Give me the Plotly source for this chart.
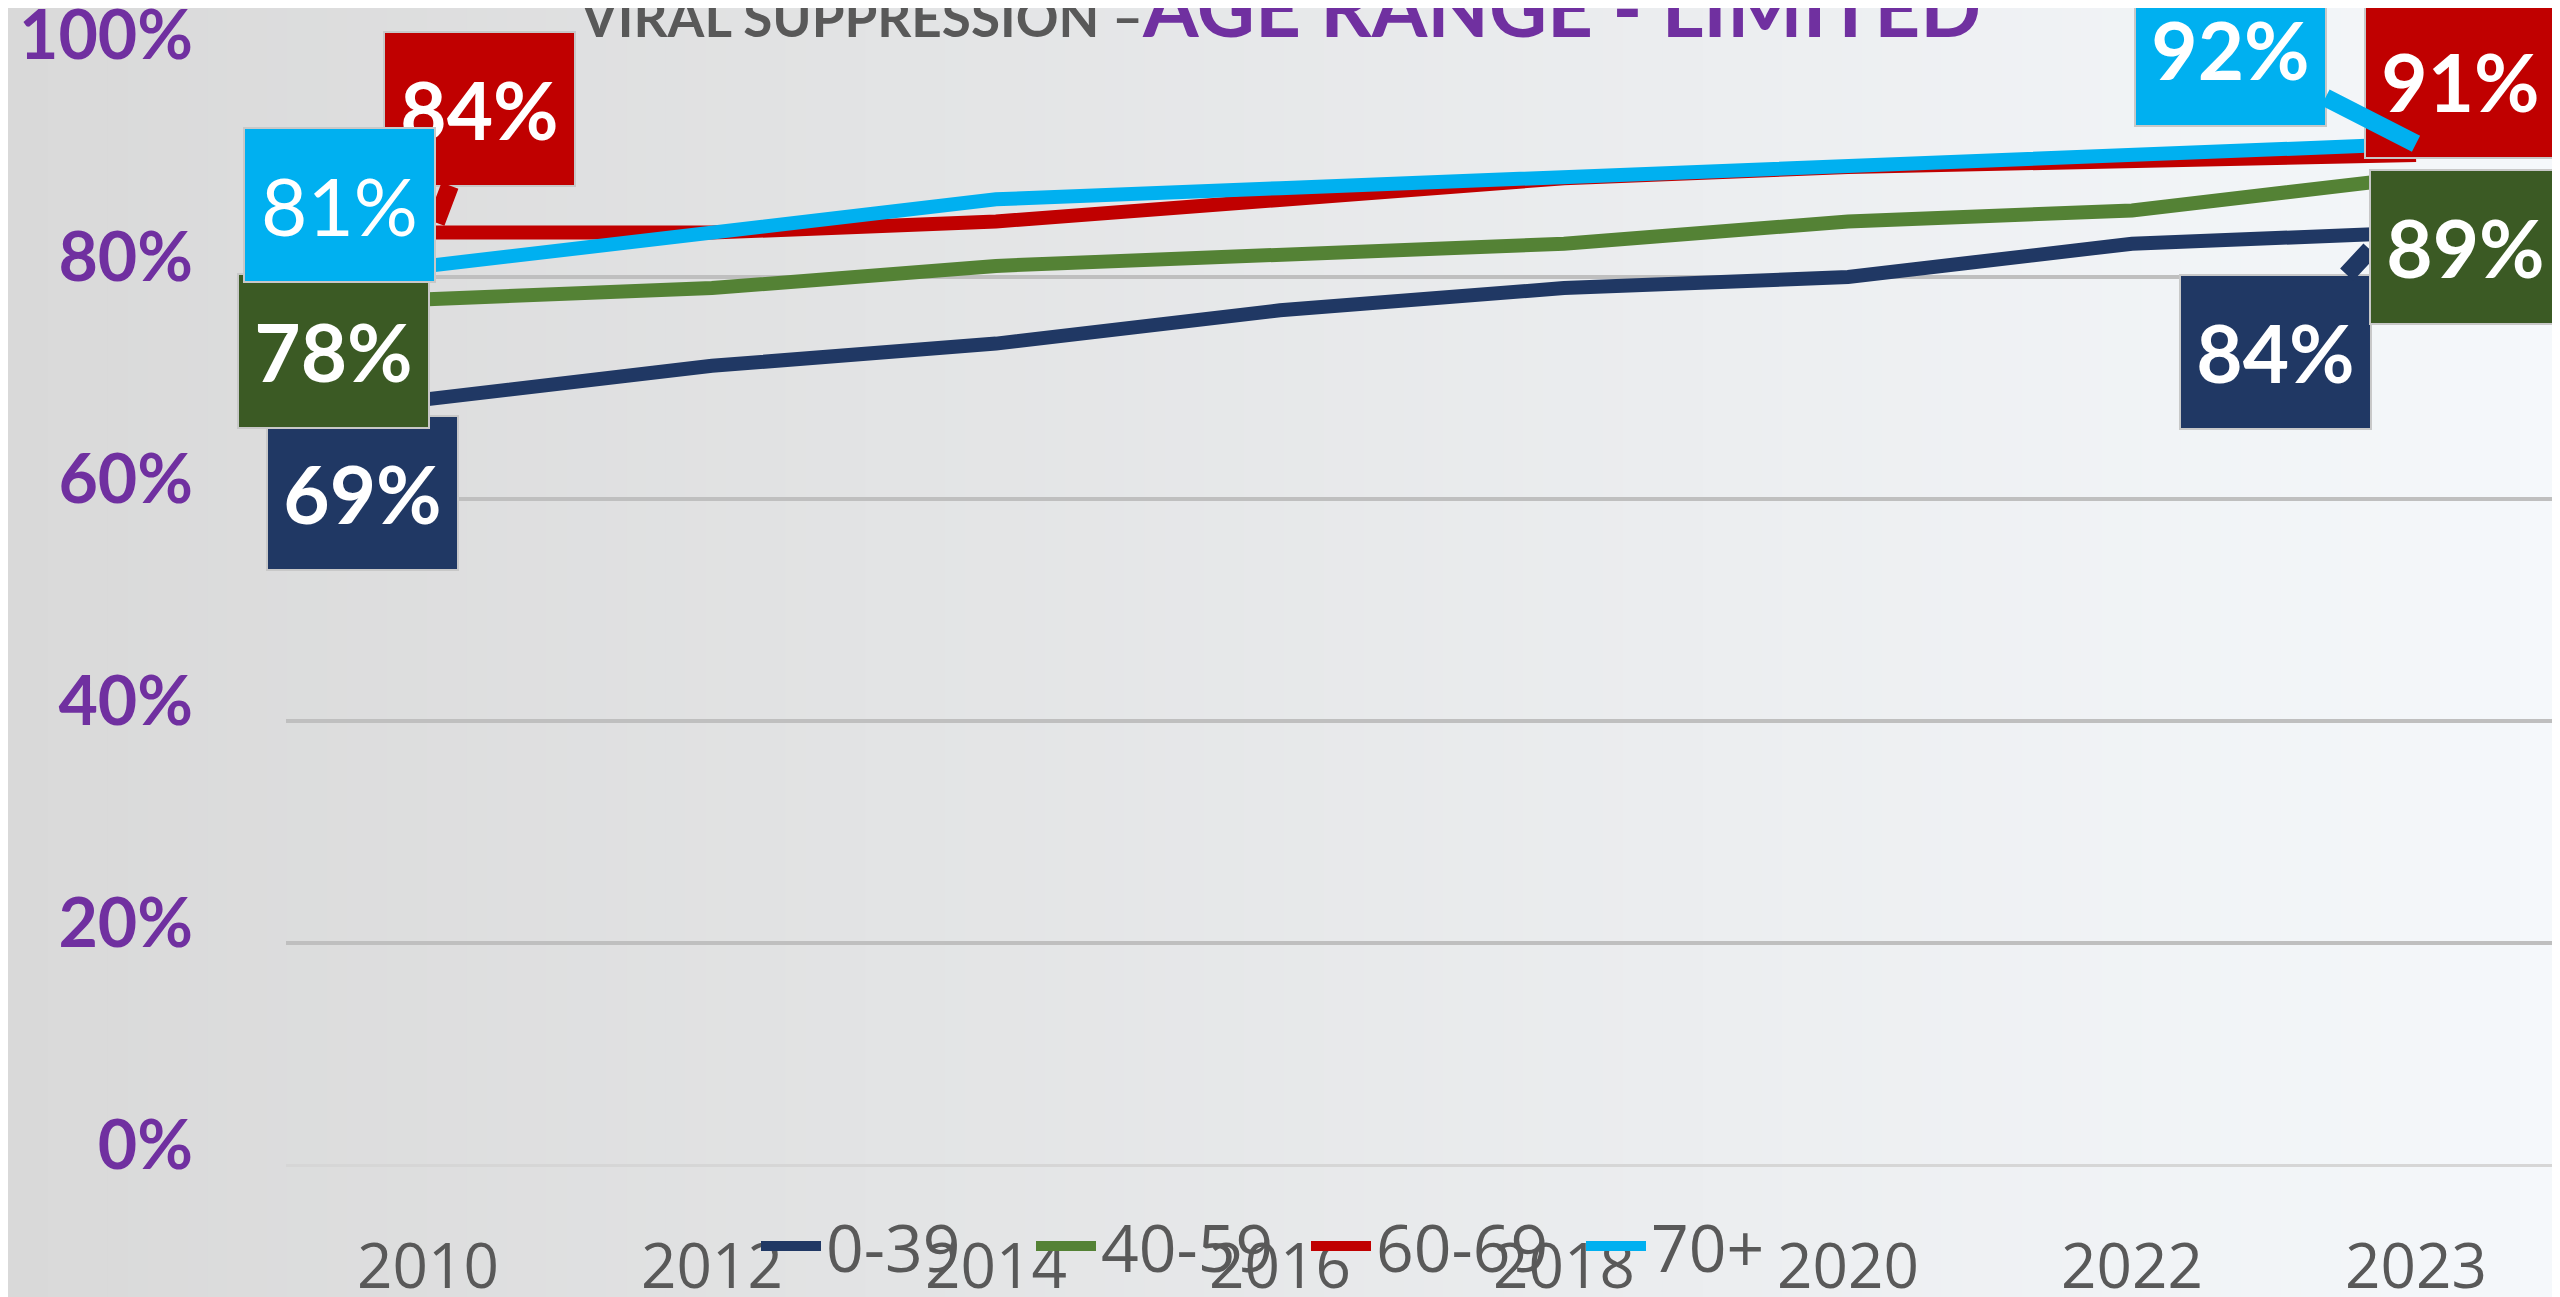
import plotly.graph_objects as go

# ---------------- data ----------------
years = ["2010", "2012", "2014", "2016", "2018", "2020", "2022", "2023"]
age_groups = ["0-39", "40-59", "60-69", "70+"]
v_0_39 = [69, 72, 74, 77, 79, 80, 83, 84]
v_40_59 = [78, 79, 81, 82, 83, 85, 86, 89]
v_60_69 = [84, 84, 85, 86.8, 88.9, 89.9, 90.5, 91]
v_70_plus = [81, 84, 87, 88, 89, 90, 91, 92]
y_ticks = [0, 20, 40, 60, 80, 100]
y_tick_labels = ["0%", "20%", "40%", "60%", "80%", "100%"]
title_left = "VIRAL SUPPRESSION –"
title_right = "AGE RANGE - LIMITED"

series = [v_0_39, v_40_59, v_60_69, v_70_plus]

# ---------------- style ----------------
OFF = 8                      # page body margin
W, H = 2560 - OFF, 1297 - OFF
ML, MR, MT, MB = 278, 2, 47, 132
line_colors = ["#203864", "#548235", "#c00000", "#00b0f0"]
box_colors = ["#203864", "#3b5a24", "#c00000", "#00b0f0"]
# label style: box centre offset from arrow tip (dx, dy), arrow shown, bold, tip shift (sx, sy)
first_label_style = [(-66, 94, False, True, (0, 0)), (-95, 52, False, True, (0, 0)),
                     (43, -114, True, True, (8, -10)), (-89, -61, False, False, (0, 0))]
last_label_style = [(-95, 102, True, True, (-46, 17)), (49, 70, False, True, (0, 0)),
                    (44, -74, False, True, (0, 0)), (-186, -95, True, True, (0, 0))]

fig = go.Figure()
for name, vals, col in zip(age_groups, series, line_colors):
    fig.add_trace(go.Scatter(x=years, y=vals, name=name, mode="lines",
                             line=dict(color=col, width=14)))

# background gradient (strips)
pw = W - ML - MR
ph = H - MT - MB
n = 128
c0 = (217, 217, 217)
c1 = (245, 248, 251)
shapes = []
for i in range(n):
    t = (i + 0.5) / n
    col = "rgb(%d,%d,%d)" % tuple(round(a + (b - a) * t) for a, b in zip(c0, c1))
    x0 = (i * W / n - ML) / pw
    x1 = ((i + 1) * W / n + 1 - ML) / pw
    shapes.append(dict(type="rect", xref="paper", yref="paper", layer="below",
                       x0=x0, x1=x1, y0=-MB / ph - 0.01, y1=1 + MT / ph + 0.01,
                       line=dict(width=0), fillcolor=col))

annotations = []
for k in range(len(series)):
    for idx, st in ((0, first_label_style[k]), (len(years) - 1, last_label_style[k])):
        dx, dy, arrow, bold, (sx, sy) = st
        v = series[k][idx]
        txt = "%d%%" % round(v)
        font = dict(family="Lato", size=80, color="white",
                    weight="bold" if bold else "normal")
        a = dict(x=idx, y=v, xref="x", yref="y", text=txt, font=font,
                 bgcolor=box_colors[k], bordercolor="#c8c8c8", borderwidth=2,
                 borderpad=0, width=189, height=152, align="center", valign="middle")
        if arrow:
            a.update(showarrow=True, ax=dx, ay=dy, axref="pixel", ayref="pixel",
                     xshift=sx, yshift=-sy,
                     arrowhead=0, arrowwidth=18, arrowcolor=box_colors[k])
        else:
            a.update(showarrow=False, xshift=dx, yshift=-dy,
                     xanchor="center", yanchor="middle")
        annotations.append(a)

# title
annotations.append(dict(
    xref="paper", yref="paper", x=(1280 - OFF - ML) / pw, y=1 + (MT - 48) / ph,
    xanchor="center", yanchor="bottom", showarrow=False,
    text=("<span style='color:#595959;font-size:53px'>%s</span>"
          "<span style='color:#7030a0;font-size:80px'>%s</span>") % (title_left, title_right),
    font=dict(family="Lato", size=53, weight="bold")))

fig.update_layout(
    width=W, height=H,
    margin=dict(l=ML, r=MR, t=MT, b=MB, pad=0, autoexpand=False),
    paper_bgcolor="#d9d9d9", plot_bgcolor="rgba(0,0,0,0)",
    shapes=shapes, annotations=annotations,
    showlegend=True,
    legend=dict(orientation="h", xref="container", yref="container",
                x=(756 - OFF) / W, xanchor="left", y=1 - (1246 - OFF) / H, yanchor="middle",
                bgcolor="rgba(0,0,0,0)", entrywidth=200, entrywidthmode="pixels",
                itemwidth=60,
                font=dict(family="Open Sans", size=66, color="#595959"),
                tracegroupgap=0),
    xaxis=dict(type="category", range=[-0.5, len(years) - 0.5], showgrid=False,
               showline=False, ticks="", zeroline=False,
               tickfont=dict(family="Open Sans", size=62, color="#595959"),
               ticklabelstandoff=60),
    yaxis=dict(range=[0, 100], tickvals=y_ticks, ticktext=y_tick_labels,
               showgrid=True, gridcolor="#bfbfbf", gridwidth=4,
               zeroline=True, zerolinecolor="#d6d6d6", zerolinewidth=3,
               showline=False, ticks="", ticklabeloverflow="allow",
               tickfont=dict(family="Lato", size=68, color="#7030a0", weight="bold"),
               ticklabelstandoff=92, ticklabelshift=-20),
)

fig.write_html("out.html")
